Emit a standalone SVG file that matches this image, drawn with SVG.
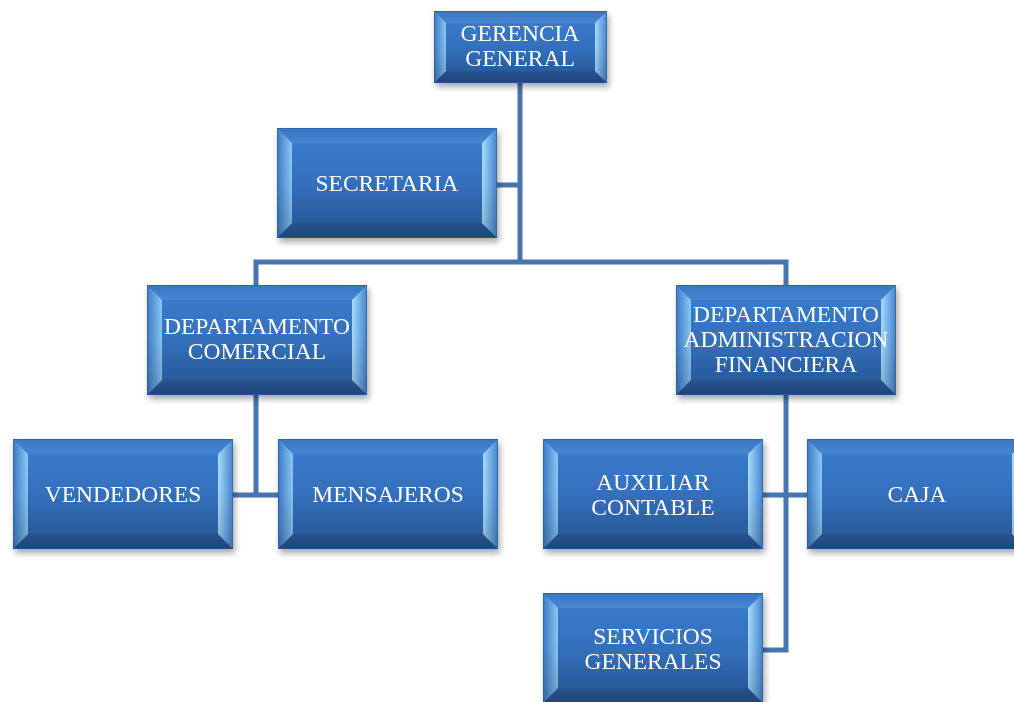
<svg xmlns="http://www.w3.org/2000/svg" xmlns:xlink="http://www.w3.org/1999/xlink" width="1014" height="702" viewBox="0 0 1014 702">
  <style>
    .lbl { font-family: "Liberation Serif", "Times New Roman", serif; font-size: 23.5px; fill: #ffffff; text-anchor: middle; }
    .wire { fill: none; stroke: #4775AE; stroke-width: 5; stroke-linejoin: miter; }
  </style>
  <defs>
    <linearGradient id="gFace" x1="0" y1="0" x2="0" y2="1">
      <stop offset="0" stop-color="#3C7ED0"/>
      <stop offset="1" stop-color="#2D66B0"/>
    </linearGradient>
    <linearGradient id="gTop" x1="0" y1="0" x2="0" y2="1">
      <stop offset="0" stop-color="#3876C2"/>
      <stop offset="1" stop-color="#4587D4"/>
    </linearGradient>
    <linearGradient id="gBottom" x1="0" y1="0" x2="0" y2="1">
      <stop offset="0" stop-color="#2D60A6"/>
      <stop offset="1" stop-color="#265490"/>
    </linearGradient>
    <linearGradient id="gLeft" x1="0" y1="0" x2="1" y2="0">
      <stop offset="0" stop-color="#3B7AC6"/>
      <stop offset="1" stop-color="#8CC8F6"/>
    </linearGradient>
    <linearGradient id="gRight" x1="0" y1="0" x2="1" y2="0">
      <stop offset="0" stop-color="#A8DDFF"/>
      <stop offset="1" stop-color="#4284D0"/>
    </linearGradient>
    <linearGradient id="gShade" x1="0" y1="0" x2="0" y2="1">
      <stop offset="0" stop-color="#000000" stop-opacity="0"/>
      <stop offset="0.5" stop-color="#000000" stop-opacity="0.02"/>
      <stop offset="1" stop-color="#000000" stop-opacity="0.18"/>
    </linearGradient>
    <filter id="drop" x="-10%" y="-10%" width="125%" height="130%">
      <feDropShadow dx="2" dy="4" stdDeviation="3" flood-color="#000000" flood-opacity="0.35"/>
    </filter>

    <!-- bevelled box, 220 x 110 -->
    <g id="boxL">
      <rect x="0" y="0" width="220" height="110" fill="url(#gFace)"/>
      <polygon points="0,0 220,0 205,15 15,15" fill="url(#gTop)"/>
      <polygon points="0,110 220,110 205,95 15,95" fill="url(#gBottom)"/>
      <polygon points="0,0 15,15 15,95 0,110" fill="url(#gLeft)"/>
      <polygon points="220,0 205,15 205,95 220,110" fill="url(#gRight)"/>
      <rect x="0" y="0" width="220" height="110" fill="url(#gShade)"/>
      <rect x="0.5" y="0.5" width="219" height="109" fill="none" stroke="#2A5A96" stroke-width="1" stroke-opacity="0.6"/>
    </g>
    <!-- bevelled box, 173 x 72 -->
    <g id="boxS">
      <rect x="0" y="0" width="173" height="72" fill="url(#gFace)"/>
      <polygon points="0,0 173,0 161,12 12,12" fill="url(#gTop)"/>
      <polygon points="0,72 173,72 161,60 12,60" fill="url(#gBottom)"/>
      <polygon points="0,0 12,12 12,60 0,72" fill="url(#gLeft)"/>
      <polygon points="173,0 161,12 161,60 173,72" fill="url(#gRight)"/>
      <rect x="0" y="0" width="173" height="72" fill="url(#gShade)"/>
      <rect x="0.5" y="0.5" width="172" height="71" fill="none" stroke="#2A5A96" stroke-width="1" stroke-opacity="0.6"/>
    </g>
  </defs>

  <rect width="1014" height="702" fill="#ffffff"/>

  <!-- connectors -->
  <g id="connectors">
    <path class="wire" d="M520 83 V262"/>
    <path class="wire" d="M497 185 H520"/>
    <path class="wire" d="M256 285 V262 H786 V285"/>
    <path class="wire" d="M256 395 V495"/>
    <path class="wire" d="M232 495 H278"/>
    <path class="wire" d="M786 395 V650 H763"/>
    <path class="wire" d="M762 495 H808"/>
  </g>

  <g id="gerencia" filter="url(#drop)">
    <use xlink:href="#boxS" x="434" y="11"/>
    <text class="lbl" x="520" y="41">GERENCIA</text>
    <text class="lbl" x="520" y="66">GENERAL</text>
  </g>

  <g id="secretaria" filter="url(#drop)">
    <use xlink:href="#boxL" x="277" y="128"/>
    <text class="lbl" x="387" y="191">SECRETARIA</text>
  </g>

  <g id="dep-comercial" filter="url(#drop)">
    <use xlink:href="#boxL" x="147" y="285"/>
    <text class="lbl" x="257" y="334">DEPARTAMENTO</text>
    <text class="lbl" x="257" y="359">COMERCIAL</text>
  </g>

  <g id="dep-administracion" filter="url(#drop)">
    <use xlink:href="#boxL" x="676" y="285"/>
    <text class="lbl" x="786" y="322">DEPARTAMENTO</text>
    <text class="lbl" x="786" y="347">ADMINISTRACION</text>
    <text class="lbl" x="786" y="372">FINANCIERA</text>
  </g>

  <g id="vendedores" filter="url(#drop)">
    <use xlink:href="#boxL" x="13" y="439"/>
    <text class="lbl" x="123" y="502">VENDEDORES</text>
  </g>

  <g id="mensajeros" filter="url(#drop)">
    <use xlink:href="#boxL" x="278" y="439"/>
    <text class="lbl" x="388" y="502">MENSAJEROS</text>
  </g>

  <g id="auxiliar" filter="url(#drop)">
    <use xlink:href="#boxL" x="543" y="439"/>
    <text class="lbl" x="653" y="490">AUXILIAR</text>
    <text class="lbl" x="653" y="515">CONTABLE</text>
  </g>

  <g id="caja" filter="url(#drop)">
    <use xlink:href="#boxL" x="807" y="439"/>
    <text class="lbl" x="917" y="502">CAJA</text>
  </g>

  <g id="servicios" filter="url(#drop)">
    <use xlink:href="#boxL" x="543" y="593"/>
    <text class="lbl" x="653" y="644">SERVICIOS</text>
    <text class="lbl" x="653" y="669">GENERALES</text>
  </g>
</svg>
